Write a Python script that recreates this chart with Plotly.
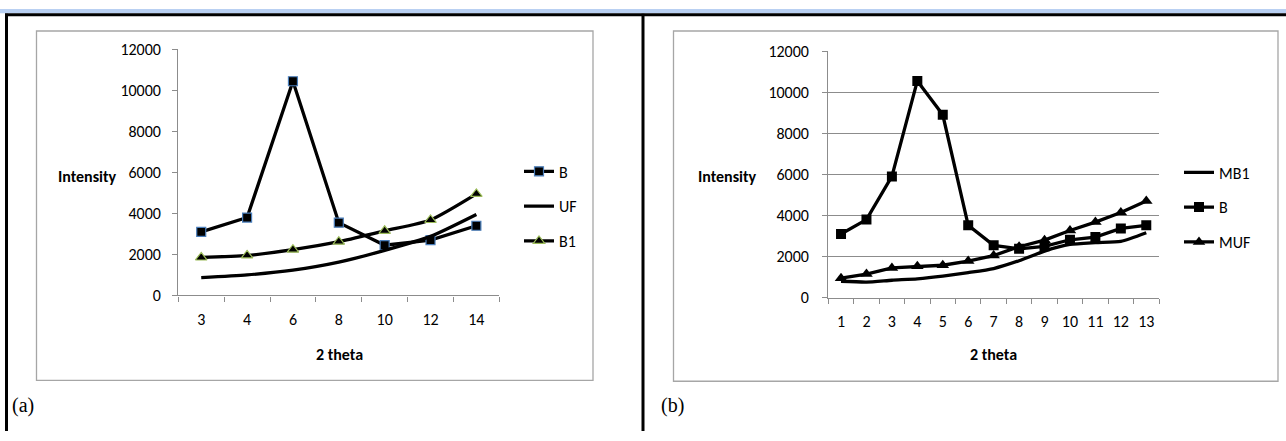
import plotly.graph_objects as go

W, H = 1286, 441

# ---- data ----
a_theta = ["3", "4", "6", "8", "10", "12", "14"]
a_B = [3100, 3800, 10450, 3550, 2450, 2700, 3400]
a_UF = [870, 1000, 1230, 1620, 2200, 2880, 3950]
a_B1 = [1850, 1950, 2230, 2620, 3150, 3680, 4950]

b_theta = ["1", "2", "3", "4", "5", "6", "7", "8", "9", "10", "11", "12", "13"]
b_MB1 = [800, 760, 850, 920, 1050, 1220, 1420, 1800, 2270, 2590, 2680, 2740, 3160]
b_B = [3100, 3800, 5900, 10550, 8900, 3520, 2550, 2380, 2500, 2820, 2950, 3370, 3520]
b_MUF = [950, 1150, 1450, 1530, 1580, 1780, 2050, 2480, 2800, 3270, 3680, 4150, 4700]

y_ticks = [0, 2000, 4000, 6000, 8000, 10000, 12000]
y_labels = ["0", "2000", "4000", "6000", "8000", "10000", "12000"]

FONT = "Carlito, Lato, sans-serif"
GRAY = "#8c8c8c"

def px(x):
    return x / W

def py(y):
    return 1 - y / H

fig = go.Figure()

# panel (a)
fig.add_trace(go.Scatter(x=a_theta, y=a_B, name="B", mode="lines+markers",
                         line=dict(color="black", width=3.3),
                         marker=dict(symbol="square", size=9, color="black",
                                     line=dict(color="#4a7ebb", width=1.2)),
                         xaxis="x", yaxis="y", legend="legend", legendgroup="aB"))
fig.add_trace(go.Scatter(x=a_theta, y=a_UF, name="UF", mode="lines",
                         line=dict(color="black", width=3.3, shape="spline", smoothing=0.6),
                         xaxis="x", yaxis="y", legend="legend", legendgroup="aUF"))
fig.add_trace(go.Scatter(x=a_theta, y=a_B1, name="B1", mode="lines+markers",
                         line=dict(color="black", width=3.3, shape="spline", smoothing=0.6),
                         marker=dict(symbol="triangle-up", size=10, color="black",
                                     line=dict(color="#9bbb59", width=1.2)),
                         xaxis="x", yaxis="y", legend="legend", legendgroup="aB1"))

# panel (b)
fig.add_trace(go.Scatter(x=b_theta, y=b_MB1, name="MB1", mode="lines",
                         line=dict(color="black", width=3.3, shape="spline", smoothing=0.6),
                         xaxis="x2", yaxis="y2", legend="legend2", legendgroup="bMB1"))
fig.add_trace(go.Scatter(x=b_theta, y=b_B, name="B", mode="lines+markers",
                         line=dict(color="black", width=3.3),
                         marker=dict(symbol="square", size=10, color="black"),
                         xaxis="x2", yaxis="y2", legend="legend2", legendgroup="bB"))
fig.add_trace(go.Scatter(x=b_theta, y=b_MUF, name="MUF", mode="lines+markers",
                         line=dict(color="black", width=3.3),
                         marker=dict(symbol="triangle-up", size=11, color="black"),
                         xaxis="x2", yaxis="y2", legend="legend2", legendgroup="bMUF"))

axis_common = dict(showline=True, linecolor=GRAY, linewidth=1.3, ticks="outside",
                   tickcolor=GRAY, ticklen=5, tickwidth=1, tickangle=0,
                   tickfont=dict(family=FONT, size=16, color="black"), zeroline=False)

fig.update_layout(
    width=W, height=H, margin=dict(l=0, r=0, t=0, b=0),
    paper_bgcolor="white", plot_bgcolor="rgba(0,0,0,0)",
    xaxis=dict(domain=[px(178.3), px(499.3)], type="category", categoryorder="array",
               categoryarray=a_theta, range=[-0.5, 6.5], tickson="boundaries",
               showgrid=False, anchor="y", ticklabelstandoff=9, **axis_common),
    yaxis=dict(domain=[py(299.3), py(42.3)], range=[0, 12000], tickmode="array",
               tickvals=y_ticks, ticktext=y_labels,
               showgrid=False, anchor="x", ticklabelstandoff=8, **axis_common),
    xaxis2=dict(domain=[px(828.3), px(1159)], type="category", categoryorder="array",
                categoryarray=b_theta, range=[-0.5, 12.5], tickson="boundaries",
                showgrid=False, anchor="y2", ticklabelstandoff=9, **axis_common),
    yaxis2=dict(domain=[py(301.7), py(44)], range=[0, 12000], tickmode="array",
                tickvals=y_ticks, ticktext=y_labels,
                showgrid=True, gridcolor=GRAY, gridwidth=1.3, anchor="x2",
                ticklabelstandoff=10, **axis_common),
    legend=dict(x=px(519), y=py(152), xanchor="left", yanchor="top",
                font=dict(family=FONT, size=16, color="black"),
                bgcolor="rgba(0,0,0,0)", traceorder="grouped", tracegroupgap=11,
                itemwidth=30),
    legend2=dict(x=px(1179), y=py(153), xanchor="left", yanchor="top",
                 font=dict(family=FONT, size=16, color="black"),
                 bgcolor="rgba(0,0,0,0)", traceorder="grouped", tracegroupgap=11,
                 itemwidth=30),
    showlegend=True,
)

shapes = []
shapes.append(dict(type="rect", xref="paper", yref="paper", x0=0, x1=1,
                   y0=py(4.5), y1=1, fillcolor="#b9d0f2", line=dict(width=0), layer="below"))
shapes.append(dict(type="line", xref="paper", yref="paper", x0=px(5), x1=1,
                   y0=py(6), y1=py(6), line=dict(color="black", width=3)))
shapes.append(dict(type="line", xref="paper", yref="paper", x0=px(6.5), x1=px(6.5),
                   y0=py(5), y1=0, line=dict(color="black", width=3)))
shapes.append(dict(type="line", xref="paper", yref="paper", x0=px(643), x1=px(643),
                   y0=py(5), y1=0, line=dict(color="black", width=3)))
shapes.append(dict(type="rect", xref="paper", yref="paper", x0=px(36.5), x1=px(593),
                   y0=py(388), y1=py(23), line=dict(color="#a6a6a6", width=1.3)))
shapes.append(dict(type="rect", xref="paper", yref="paper", x0=px(673.5), x1=px(1278),
                   y0=py(389), y1=py(23), line=dict(color="#a6a6a6", width=1.3)))
fig.update_layout(shapes=shapes)

bold = dict(family=FONT, size=16, color="black")
ann = [
    dict(text="<b>Intensity</b>", x=px(87.5), y=py(175), font=bold),
    dict(text="<b>Intensity</b>", x=px(727.5), y=py(175), font=bold),
    dict(text="<b>2 theta</b>", x=px(339), y=py(361), font=bold),
    dict(text="<b>2 theta</b>", x=px(993.5), y=py(361), font=bold),
    dict(text="(a)", x=px(10), y=py(414), xanchor="left",
         font=dict(family="Liberation Serif, Times New Roman, serif", size=20, color="black")),
    dict(text="(b)", x=px(659), y=py(414), xanchor="left",
         font=dict(family="Liberation Serif, Times New Roman, serif", size=20, color="black")),
]
for a in ann:
    a.setdefault("xanchor", "center")
    a.update(xref="paper", yref="paper", yanchor="middle", showarrow=False)
fig.update_layout(annotations=ann)

post = ("var d=document.getElementById('{plot_id}');"
        "d.style.position='fixed';d.style.left='0px';d.style.top='0px';"
        "document.documentElement.style.margin='0';document.body.style.margin='0';"
        "document.documentElement.style.overflow='hidden';document.body.style.overflow='hidden';")

fig.write_html("out.html", config={"displayModeBar": False}, post_script=post)
